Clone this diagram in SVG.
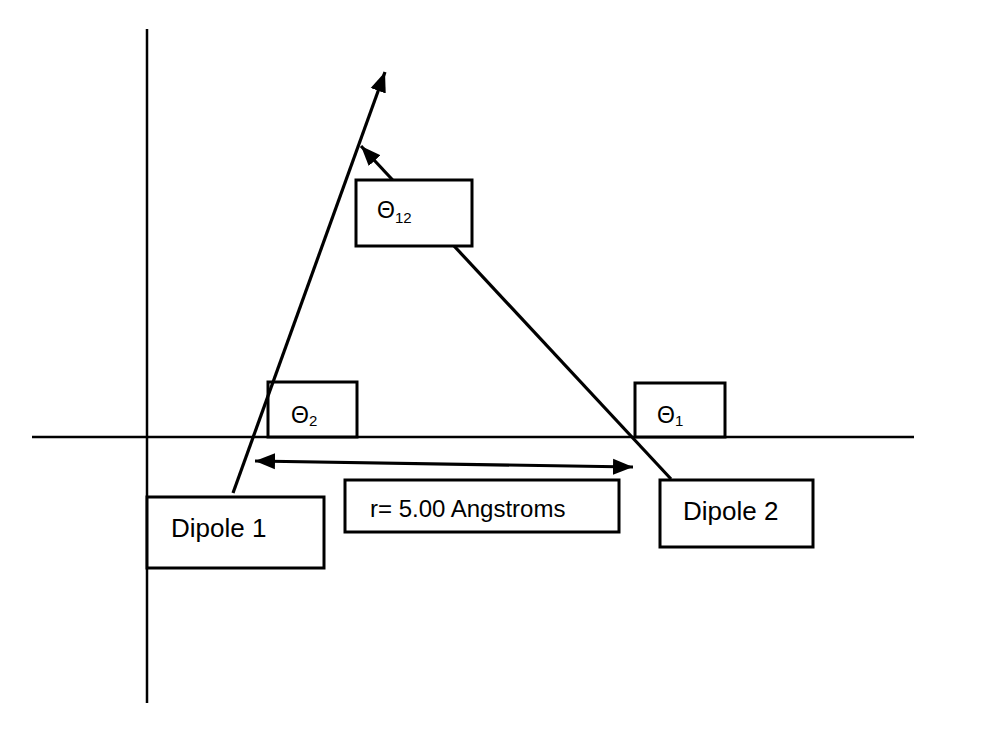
<svg xmlns="http://www.w3.org/2000/svg" width="982" height="730" viewBox="0 0 982 730">
<defs>
<style>
.box{fill:#fff;stroke:#000;stroke-width:3}
.axis{stroke:#000;stroke-width:2.5;fill:none}
.conn{stroke:#000;stroke-width:3.2;fill:none}
.t{font-family:"Liberation Sans",Arial,sans-serif;fill:#000}
</style>
<marker id="ah" markerUnits="userSpaceOnUse" markerWidth="22" markerHeight="18" refX="20" refY="8" orient="auto-start-reverse" viewBox="0 0 22 16">
<path d="M0,0 L20,8 L0,16 Z" fill="#000"/>
</marker>
</defs>
<rect width="982" height="730" fill="#fff"/>
<g id="axes">
<line class="axis" x1="147" y1="29" x2="147" y2="703"/>
<line class="axis" x1="32" y1="437" x2="914" y2="437"/>
</g>
<g id="theta2">
<rect class="box" x="268" y="382" width="89" height="55"/>
<text class="t" x="291" y="423" font-size="23">Θ<tspan font-size="15" dy="3">2</tspan></text>
</g>
<g id="theta1">
<rect class="box" x="635" y="383" width="90" height="54"/>
<text class="t" x="657" y="423" font-size="23">Θ<tspan font-size="15" dy="3">1</tspan></text>
</g>
<g id="dipole1">
<rect class="box" x="147" y="497" width="177" height="71"/>
<text class="t" x="171" y="537" font-size="26">Dipole 1</text>
</g>
<g id="dipole2">
<rect class="box" x="660" y="480" width="153" height="67"/>
<text class="t" x="683" y="520" font-size="26">Dipole 2</text>
</g>
<g id="r-label">
<rect class="box" x="345" y="480" width="274" height="52"/>
<text class="t" x="370" y="517" font-size="24">r= 5.00 Angstroms</text>
</g>
<g id="connectors">
<line class="conn" x1="233" y1="493" x2="385" y2="72" marker-end="url(#ah)"/>
<line class="conn" x1="671" y1="479" x2="361" y2="146" marker-end="url(#ah)"/>
<line class="conn" x1="255" y1="461" x2="633" y2="467" marker-start="url(#ah)" marker-end="url(#ah)"/>
</g>
<g id="theta12">
<rect class="box" x="356" y="180" width="116" height="66"/>
<text class="t" x="377" y="218" font-size="23">Θ<tspan font-size="15" dy="5">12</tspan></text>
</g>
</svg>
